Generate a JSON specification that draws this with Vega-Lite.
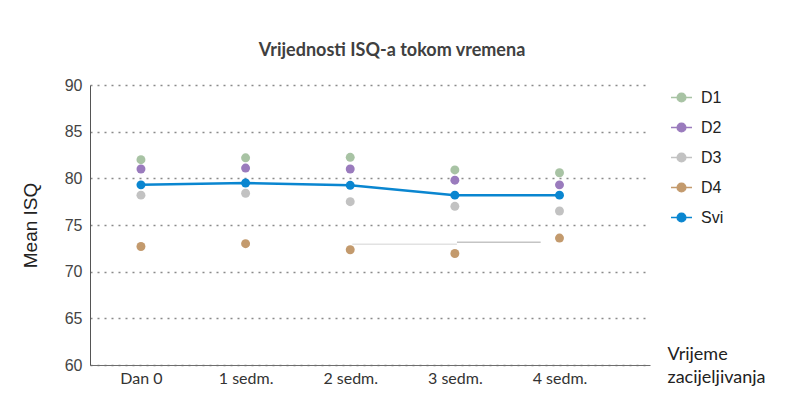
{
  "$schema": "https://vega.github.io/schema/vega-lite/v6.json",
  "width": 560,
  "height": 280,
  "autosize": "none",
  "padding": {"left": 90, "top": 85, "right": 144, "bottom": 52},
  "background": "white",
  "title": {
    "text": "Vrijednosti ISQ-a tokom vremena",
    "font": "Lato",
    "fontSize": 18,
    "fontWeight": "bold",
    "color": "#404040",
    "anchor": "middle",
    "dx": 22,
    "offset": 17
  },
  "data": {
    "values": [
      {"w": 0, "s": "D1", "v": 82.0},
      {"w": 0, "s": "D2", "v": 81.0},
      {"w": 0, "s": "D3", "v": 78.2},
      {"w": 0, "s": "D4", "v": 72.7},
      {"w": 0, "s": "Svi", "v": 79.3},
      {"w": 1, "s": "D1", "v": 82.2},
      {"w": 1, "s": "D2", "v": 81.1},
      {"w": 1, "s": "D3", "v": 78.4},
      {"w": 1, "s": "D4", "v": 73.0},
      {"w": 1, "s": "Svi", "v": 79.5},
      {"w": 2, "s": "D1", "v": 82.25},
      {"w": 2, "s": "D2", "v": 81.0},
      {"w": 2, "s": "D3", "v": 77.5},
      {"w": 2, "s": "D4", "v": 72.35},
      {"w": 2, "s": "Svi", "v": 79.25},
      {"w": 3, "s": "D1", "v": 80.9},
      {"w": 3, "s": "D2", "v": 79.8},
      {"w": 3, "s": "D3", "v": 77.0},
      {"w": 3, "s": "D4", "v": 71.95},
      {"w": 3, "s": "Svi", "v": 78.2},
      {"w": 4, "s": "D1", "v": 80.6},
      {"w": 4, "s": "D2", "v": 79.3},
      {"w": 4, "s": "D3", "v": 76.5},
      {"w": 4, "s": "D4", "v": 73.6},
      {"w": 4, "s": "Svi", "v": 78.2}
    ]
  },
  "encoding": {
    "x": {
      "field": "w",
      "type": "quantitative",
      "scale": {"domain": [-0.487, 4.865], "nice": false, "zero": false},
      "axis": {
        "title": ["Vrijeme", "zacijeljivanja"],
        "titleFont": "Lato",
        "titleFontSize": 18,
        "titleFontWeight": "normal",
        "titleColor": "#222222",
        "titleAlign": "left",
        "titleAnchor": "start",
        "titleBaseline": "top",
        "titleLineHeight": 23,
        "titleX": 577,
        "titleY": -20,
        "values": [0, 1, 2, 3, 4],
        "labelExpr": "datum.value == 0 ? 'Dan 0' : datum.value + ' sedm.'",
        "labelAngle": 0,
        "labelFont": "Lato",
        "labelFontSize": 16,
        "labelColor": "#333333",
        "labelPadding": 5,
        "ticks": false,
        "domainColor": "#6e6e6e",
        "domainWidth": 1,
        "grid": false
      }
    },
    "y": {
      "field": "v",
      "type": "quantitative",
      "scale": {"domain": [60, 90], "zero": false, "nice": false},
      "axis": {
        "title": "Mean ISQ",
        "titleFont": "Liberation Sans",
        "titleFontSize": 19,
        "titleFontWeight": "normal",
        "titleColor": "#222222",
        "titlePadding": 24,
        "values": [60, 65, 70, 75, 80, 85, 90],
        "labelFont": "Liberation Sans",
        "labelFontSize": 16,
        "labelColor": "#444444",
        "labelPadding": 8,
        "ticks": false,
        "domainColor": "#555555",
        "grid": true,
        "gridColor": "#8a8a8a",
        "gridDash": [2, 5],
        "gridWidth": 1.3
      }
    }
  },
  "layer": [
    {
      "data": {
        "values": [
          {"w": 2.02, "w2": 3.02, "v": 72.93, "k": "a"},
          {"w": 3.02, "w2": 3.82, "v": 73.15, "k": "b"}
        ]
      },
      "mark": {"type": "rule", "strokeWidth": 1.6},
      "encoding": {
        "x2": {"field": "w2"},
        "color": {
          "field": "k",
          "type": "nominal",
          "scale": {"domain": ["a", "b"], "range": ["#e2e2e2", "#c4c4c4"]},
          "legend": null
        }
      }
    },
    {
      "transform": [{"filter": "datum.s === 'Svi'"}],
      "mark": {"type": "line", "color": "#0a86d0", "strokeWidth": 2.5}
    },
    {
      "mark": {"type": "point", "filled": true, "size": 80, "opacity": 1, "strokeWidth": 0},
      "encoding": {
        "fill": {
          "field": "s",
          "type": "nominal",
          "scale": {"domain": ["D1", "D2", "D3", "D4", "Svi"], "range": ["#a8c3a4", "#9a7bbd", "#c2c2c2", "#c39a6d", "#0a86d0"]},
          "legend": {
            "title": null,
            "orient": "none",
            "legendX": 580,
            "legendY": 1,
            "symbolType": "M -1 0 L 1 0 M 0.42 0 A 0.42 0.42 0 1 1 -0.42 0 A 0.42 0.42 0 1 1 0.42 0 Z",
            "symbolSize": 441,
            "symbolStrokeWidth": 1.3,
            "symbolOpacity": 1,
            "labelFont": "Liberation Sans",
            "labelFontSize": 16,
            "labelColor": "#222222",
            "labelOffset": 8,
            "rowPadding": 10
          }
        },
        "stroke": {
          "field": "s",
          "type": "nominal",
          "scale": {"domain": ["D1", "D2", "D3", "D4", "Svi"], "range": ["#a8c3a4", "#9a7bbd", "#c2c2c2", "#c39a6d", "#0a86d0"]},
          "legend": {
            "title": null,
            "orient": "none",
            "legendX": 580,
            "legendY": 1,
            "symbolType": "M -1 0 L 1 0 M 0.42 0 A 0.42 0.42 0 1 1 -0.42 0 A 0.42 0.42 0 1 1 0.42 0 Z",
            "symbolSize": 441,
            "symbolStrokeWidth": 1.3,
            "symbolOpacity": 1,
            "labelFont": "Liberation Sans",
            "labelFontSize": 16,
            "labelColor": "#222222",
            "labelOffset": 8,
            "rowPadding": 10
          }
        }
      }
    }
  ],
  "config": {
    "view": {"stroke": null}
  }
}
